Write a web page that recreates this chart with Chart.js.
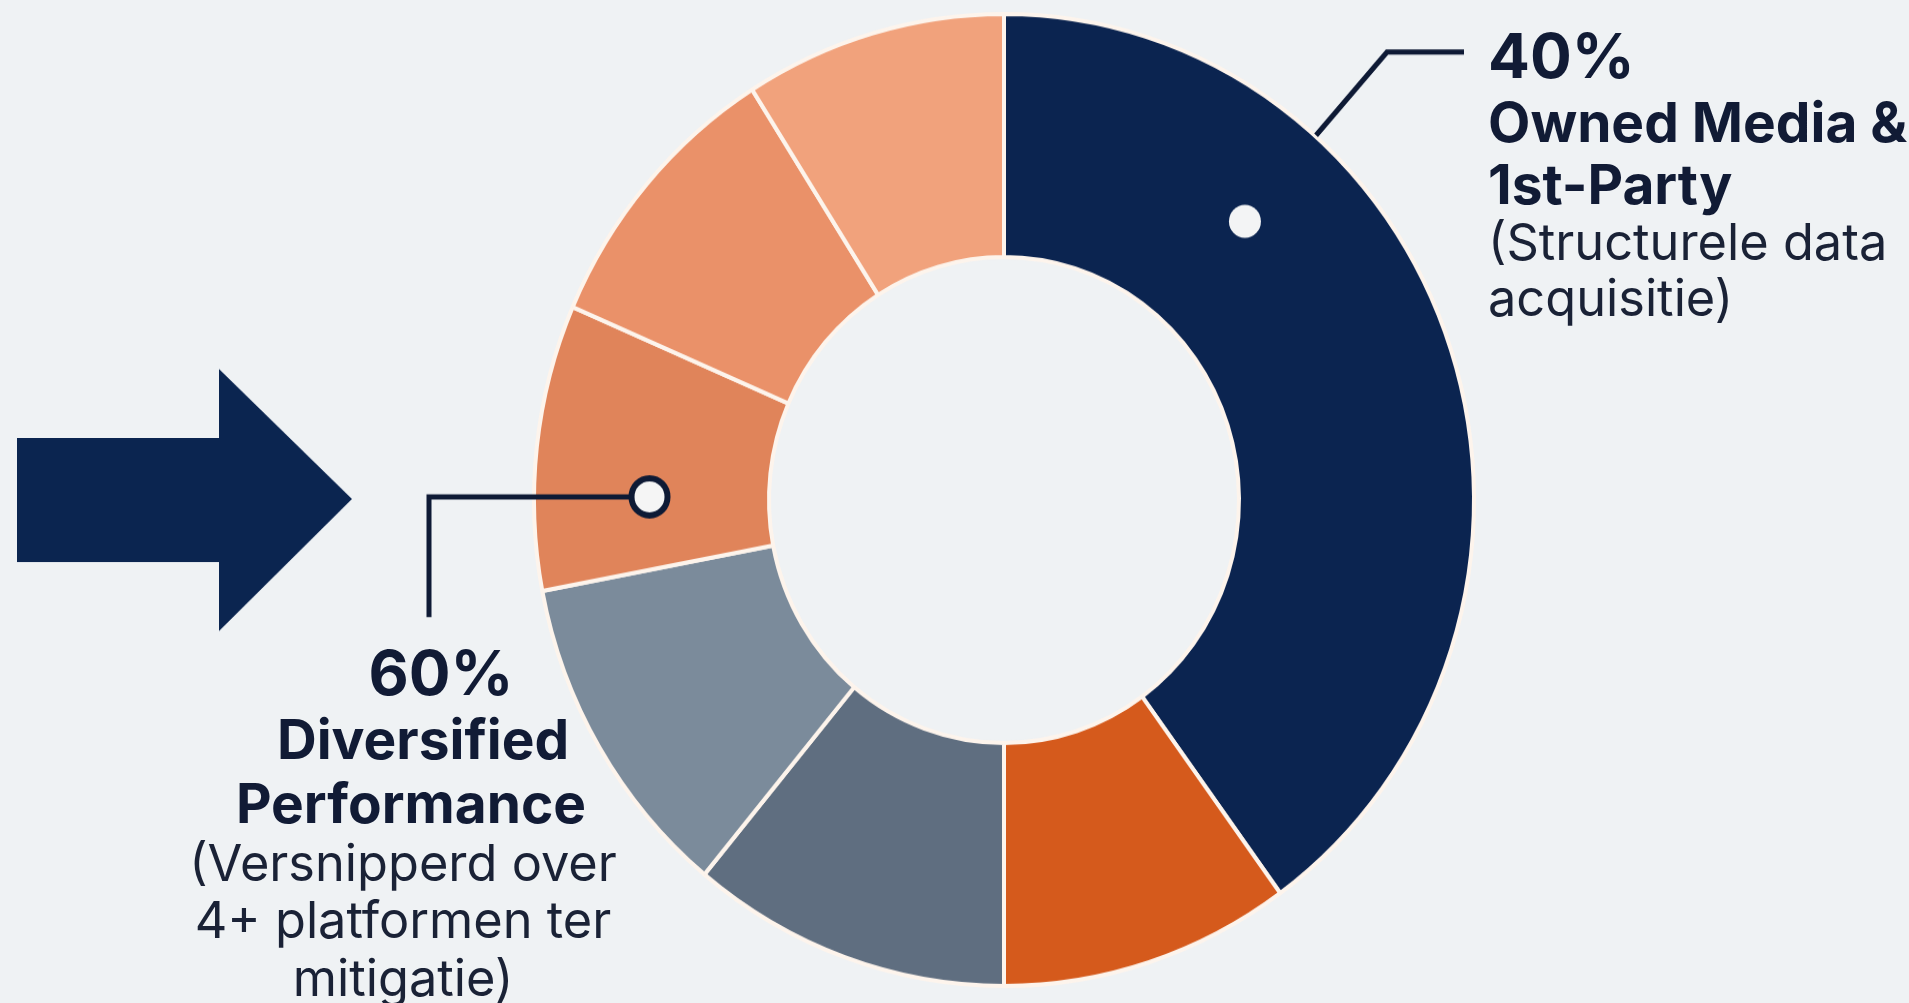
<!DOCTYPE html>
<html>
<head>
<meta charset="utf-8">
<title>Owned Media vs Diversified Performance</title>
<script src="https://cdn.jsdelivr.net/npm/chart.js@4.4.1/dist/chart.umd.min.js"></script>
<style>
  html, body { margin: 0; padding: 0; background: #eff2f4; overflow: hidden; }
  #wrap { position: relative; width: 1909px; height: 1003px; overflow: hidden; }
  /* the reference ring is a touch taller than wide */
  #donut { position: absolute; left: 0; top: 0; transform: scaleY(1.034); transform-origin: 0 500px; }
  .lbl { position: absolute; white-space: nowrap; font-family: Inter, 'Noto Sans', sans-serif; color: #111b35; line-height: 1; }
  .big { font-size: 62px; font-weight: 700; }
  .bold { font-size: 55px; font-weight: 700; }
  .reg { font-size: 50.5px; font-weight: 400; color: #1a2236; }
  .mid { transform: translateX(-50%); }
</style>
</head>
<body>
<div id="wrap">
  <canvas id="donut" width="1909" height="1003"></canvas>

  <div class="lbl big" style="left:1488px; top:25px;">40%</div>
  <div class="lbl bold" style="left:1488px; top:95px;">Owned Media &amp;</div>
  <div class="lbl bold" style="left:1488px; top:157px;">1st-Party</div>
  <div class="lbl reg" style="left:1488px; top:217px;">(Structurele data</div>
  <div class="lbl reg" style="left:1488px; top:273px;">acquisitie)</div>

  <div class="lbl big mid" style="left:441px; top:642px;">60%</div>
  <div class="lbl bold mid" style="left:423px; top:712px;">Diversified</div>
  <div class="lbl bold mid" style="left:411px; top:776px;">Performance</div>
  <div class="lbl reg mid" style="left:403px; top:838px;">(Versnipperd over</div>
  <div class="lbl reg mid" style="left:403px; top:895px;">4+ platformen ter</div>
  <div class="lbl reg mid" style="left:403px; top:953px;">mitigatie)</div>
</div>

<script>
// share of budget per segment, clockwise from 12 o'clock
const segmentLabels = [
  'Owned Media & 1st-Party',
  'Performance kanaal 1',
  'Performance kanaal 2',
  'Performance kanaal 3',
  'Performance kanaal 4',
  'Performance kanaal 5',
  'Performance kanaal 6'
];
const segmentShares = [40, 10, 11, 11, 9.5, 9.5, 9];
const segmentColors = ['#0b2450', '#d55a1c', '#5f6e80', '#7b8b9b', '#e0845a', '#ea9169', '#f1a27c'];

const lineColor = '#0e1a35';
const STRETCH = 1.034;   // must match the scaleY on #donut
const sy = v => 500 + (v - 500) / STRETCH;   // page y -> canvas y

// arrow, leader lines and dots around the ring
const calloutPlugin = {
  id: 'callouts',
  beforeDraw(chart) {
    const ctx = chart.ctx;
    ctx.save();
    ctx.fillStyle = '#0b2550';
    ctx.beginPath();
    ctx.moveTo(17, sy(438));
    ctx.lineTo(219, sy(438));
    ctx.lineTo(219, sy(369));
    ctx.lineTo(352, sy(499));
    ctx.lineTo(219, sy(631));
    ctx.lineTo(219, sy(562));
    ctx.lineTo(17, sy(562));
    ctx.closePath();
    ctx.fill();
    ctx.restore();
  },
  afterDraw(chart) {
    const ctx = chart.ctx;
    const arc = chart.getDatasetMeta(0).data[0];
    const { x, y, innerRadius, outerRadius } = arc.getProps(['x', 'y', 'innerRadius', 'outerRadius'], true);
    const mid = (innerRadius + outerRadius) / 2;
    const deg = Math.PI / 180;

    ctx.save();
    ctx.strokeStyle = lineColor;
    ctx.lineWidth = 5;
    ctx.lineJoin = 'miter';

    // right leader: from outer edge of the 40% slice up to the label
    const a1 = -48.5 * deg;
    ctx.beginPath();
    ctx.moveTo(x + (outerRadius + 1) * Math.cos(a1), y + (outerRadius + 1) * Math.sin(a1));
    ctx.lineTo(1387, sy(52));
    ctx.lineTo(1464, sy(52));
    ctx.stroke();

    // dot inside the 40% slice
    const a2 = -48.2 * deg;
    ctx.fillStyle = '#f3f4f5';
    ctx.beginPath();
    ctx.arc(x + (mid + 9) * Math.cos(a2), y + (mid + 9) * Math.sin(a2), 16, 0, Math.PI * 2);
    ctx.fill();

    // left leader: from dot in the diversified part down to the label
    const a3 = 180.5 * deg;
    const dx = x + (mid + 2) * Math.cos(a3);
    const dy = y + (mid + 2) * Math.sin(a3);
    ctx.beginPath();
    ctx.moveTo(dx, dy);
    ctx.lineTo(429, dy);
    ctx.lineTo(429, sy(617));
    ctx.stroke();

    ctx.lineWidth = 6;
    ctx.fillStyle = '#f5f5f5';
    ctx.beginPath();
    ctx.arc(dx, dy, 18, 0, Math.PI * 2);
    ctx.fill();
    ctx.stroke();
    ctx.restore();
  }
};

new Chart(document.getElementById('donut'), {
  type: 'doughnut',
  data: {
    labels: segmentLabels,
    datasets: [{
      data: segmentShares,
      backgroundColor: segmentColors,
      borderColor: '#fdf4ec',
      borderWidth: 4
    }]
  },
  options: {
    responsive: false,
    animation: false,
    cutout: '50%',
    events: [],
    layout: {
      padding: { left: 532, right: 433, top: 28, bottom: 31 }
    },
    plugins: {
      legend: { display: false },
      tooltip: { enabled: false }
    }
  },
  plugins: [calloutPlugin]
});
</script>
</body>
</html>
